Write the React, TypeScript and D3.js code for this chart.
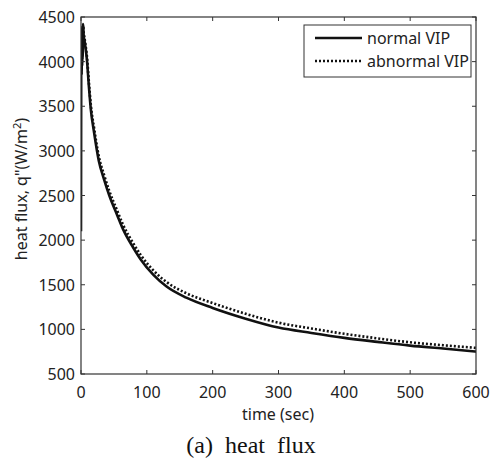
import React from "react";
import * as d3 from "d3";

// values
const timeNormal = [0, 0.3, 0.6, 1, 1.4, 1.8, 2.2, 2.6, 3, 3.5, 4, 5, 7, 9, 12, 15, 20, 27, 35, 43, 55, 64, 79, 91, 110, 130, 160, 200, 250, 300, 350, 400, 450, 500, 550, 600];
const normalVIP = [2100, 3800, 4300, 3850, 4380, 3950, 4400, 4050, 4420, 4380, 4300, 4250, 4150, 4020, 3720, 3460, 3200, 2890, 2680, 2500, 2280, 2120, 1920, 1780, 1610, 1480, 1355, 1240, 1120, 1020, 960, 905, 860, 818, 785, 751];
const timeAbnormal = [0.3, 0.6, 1, 1.4, 1.8, 2.2, 2.6, 3, 3.5, 4, 5, 7, 9, 12, 15, 20, 27, 35, 43, 55, 64, 79, 91, 110, 130, 160, 200, 250, 300, 350, 400, 450, 500, 550, 600];
const abnormalVIP = [3900, 4250, 3950, 4350, 4000, 4380, 4100, 4400, 4390, 4330, 4280, 4180, 4060, 3770, 3510, 3250, 2940, 2730, 2550, 2330, 2170, 1970, 1830, 1660, 1530, 1405, 1295, 1175, 1075, 1010, 950, 900, 855, 822, 793];
const xTicks = [0, 100, 200, 300, 400, 500, 600];
const yTicks = [500, 1000, 1500, 2000, 2500, 3000, 3500, 4000, 4500];

const W = 493;
const H = 465;
const m = { left: 81, right: 476, top: 17, bottom: 374 };
const font = "'Noto Sans', 'Open Sans', sans-serif";

const App = () => {
  const x = d3.scaleLinear().domain([0, 600]).range([m.left, m.right]);
  const y = d3.scaleLinear().domain([500, 4500]).range([m.bottom, m.top]);
  const line = d3
    .line<[number, number]>()
    .x((d) => x(d[0]))
    .y((d) => y(d[1]))
    .curve(d3.curveMonotoneX);

  const normalPath = line(timeNormal.map((t, i) => [t, normalVIP[i]]) as [number, number][]);
  const abnormalPath = line(timeAbnormal.map((t, i) => [t, abnormalVIP[i]]) as [number, number][]);

  return (
    <svg width={W} height={H} style={{ position: "absolute", left: 0, top: 0, background: "#fff" }}>
      <defs>
        <clipPath id="plot">
          <rect x={m.left} y={m.top} width={m.right - m.left} height={m.bottom - m.top} />
        </clipPath>
      </defs>

      <g clipPath="url(#plot)">
        <path d={abnormalPath || ""} fill="none" stroke="#111" strokeWidth={2.6} strokeDasharray="2,2" />
        <path d={normalPath || ""} fill="none" stroke="#111" strokeWidth={2.6} />
      </g>

      {/* frame */}
      <rect x={m.left} y={m.top} width={m.right - m.left} height={m.bottom - m.top} fill="none" stroke="#333" strokeWidth={1.2} />

      {xTicks.map((t) => (
        <g key={"x" + t}>
          <line x1={x(t)} x2={x(t)} y1={m.bottom} y2={m.bottom - 4} stroke="#333" />
          <line x1={x(t)} x2={x(t)} y1={m.top} y2={m.top + 4} stroke="#333" />
          <text x={x(t)} y={398} textAnchor="middle" fontFamily={font} fontSize={16} fill="#222">
            {t}
          </text>
        </g>
      ))}
      {yTicks.map((v) => (
        <g key={"y" + v}>
          <line x1={m.left} x2={m.left + 4} y1={y(v)} y2={y(v)} stroke="#333" />
          <line x1={m.right} x2={m.right - 4} y1={y(v)} y2={y(v)} stroke="#333" />
          <text x={75} y={y(v) + 6} textAnchor="end" fontFamily={font} fontSize={16} fill="#222">
            {v}
          </text>
        </g>
      ))}

      <text x={278} y={420} textAnchor="middle" fontFamily={font} fontSize={16} fill="#222">
        time (sec)
      </text>
      <text transform="translate(27,189) rotate(-90)" textAnchor="middle" fontFamily={font} fontSize={16} fill="#222">
        heat flux, q"(W/m<tspan dy={-6} fontSize={11}>2</tspan><tspan dy={6}>)</tspan>
      </text>

      {/* legend */}
      <rect x={304} y={25} width={167} height={52} fill="#fff" stroke="#333" strokeWidth={1} />
      <line x1={315} x2={362} y1={38} y2={38} stroke="#111" strokeWidth={2.6} />
      <line x1={315} x2={362} y1={61} y2={61} stroke="#111" strokeWidth={2.6} strokeDasharray="2,2" />
      <text x={367} y={44} fontFamily={font} fontSize={16} fill="#222">normal VIP</text>
      <text x={367} y={67} fontFamily={font} fontSize={16} fill="#222">abnormal VIP</text>

      <text x={251} y={453} textAnchor="middle" fontFamily="'Liberation Serif', 'DejaVu Serif', serif" fontSize={24} fill="#111" xmlSpace="preserve">
        (a)  heat  flux
      </text>
    </svg>
  );
};

export default App;
